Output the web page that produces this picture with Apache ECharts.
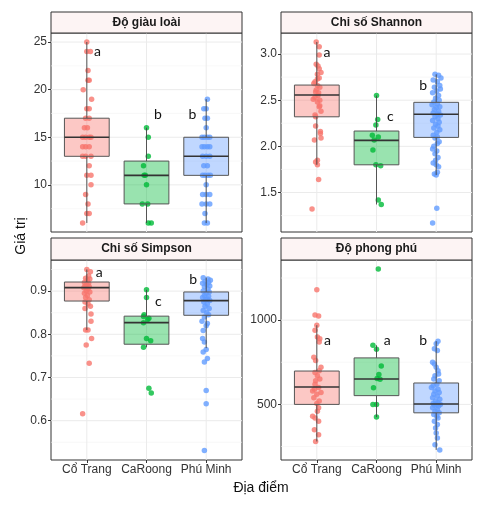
<!DOCTYPE html>
<html>
<head>
<meta charset="utf-8">
<script src="https://cdn.jsdelivr.net/npm/echarts@6/dist/echarts.min.js"></script>
<style>
  html, body { margin: 0; padding: 0; background: #fff; }
  #main { width: 484px; height: 514px; }
</style>
</head>
<body>
<div id="main"></div>
<script>
// địa điểm + tên các chỉ số
var sites = ['Cổ Trang', 'CaRoong', 'Phú Minh'];
var panelNames = ['Độ giàu loài', 'Chi số Shannon', 'Chi số Simpson', 'Độ phong phú'];
var siteColors = ['#F8766D', '#00BA38', '#619CFF'];
var boxFills = ['rgba(248,118,109,0.4)', 'rgba(0,186,56,0.4)', 'rgba(97,156,255,0.4)'];

// điểm jitter: [độ lệch x, giá trị]
var richCT = [[0,25],[0,24],[0.06,24],[0.02,22],[0.02,21],[0.04,21],[-0.06,20],[0.08,19],[0,18],[0.04,18],[-0.02,17],[0.04,17],[-0.04,16],[0.01,16],[-0.07,15],[-0.02,15],[0.04,15],[0.07,15],[-0.07,14],[-0.02,14],[0.04,14],[-0.07,13],[-0.02,13],[0.07,13],[0.04,12],[0,11],[0.07,11],[0.07,10],[-0.02,9],[0.02,8],[0,7],[0.04,7],[-0.07,6]];
var richCR = [[0,16],[0.03,15],[0.03,13],[-0.05,12],[-0.04,11],[-0.02,11],[0,10],[-0.07,8],[0.02,8],[0.03,6],[0.08,6]];
var richPM = [[0.02,19],[-0.04,18],[0,18],[-0.02,17],[0.02,17],[0,16],[-0.07,15],[-0.03,15],[0.02,15],[0.06,15],[-0.07,14],[-0.03,14],[0.02,14],[0.06,14],[-0.06,13],[0,13],[0.06,13],[-0.04,12],[0.02,12],[-0.06,11],[-0.02,11],[0.03,11],[0.07,11],[0,10],[-0.06,9],[0,9],[0.06,9],[-0.07,8],[0,8],[0.06,8],[-0.02,7],[-0.03,6],[0.02,6]];

var shanCT = [[-0.01,3.13],[0.04,3.08],[0.04,2.99],[-0.01,2.89],[0.02,2.87],[0.04,2.84],[0.07,2.80],[0.01,2.78],[0.04,2.74],[0.01,2.73],[-0.03,2.70],[-0.05,2.68],[0.01,2.66],[0.05,2.64],[-0.01,2.61],[-0.02,2.59],[0.03,2.58],[0.02,2.55],[-0.03,2.53],[0.05,2.50],[-0.06,2.51],[0.01,2.48],[0.05,2.44],[0.04,2.43],[0.07,2.38],[-0.03,2.34],[-0.02,2.32],[-0.02,2.22],[0.06,2.16],[0.06,2.14],[0.07,2.09],[-0.04,2.07],[0.01,1.85],[-0.02,1.83],[0.01,1.80],[0.03,1.64],[-0.08,1.32]];
var shanCR = [[0,2.55],[0.02,2.29],[-0.01,2.23],[-0.07,2.12],[0.03,2.10],[-0.04,2.07],[-0.06,1.96],[-0.01,1.80],[0.07,1.79],[0.03,1.42],[0.08,1.37]];
var shanPM = [[-0.02,2.78],[0.04,2.77],[0.08,2.74],[-0.05,2.72],[0.02,2.70],[0.06,2.66],[-0.03,2.64],[0.07,2.62],[0.01,2.60],[-0.06,2.58],[0.04,2.55],[-0.01,2.52],[0.05,2.50],[-0.04,2.48],[0.02,2.46],[-0.07,2.45],[0.06,2.43],[0,2.42],[-0.03,2.40],[0.04,2.38],[-0.05,2.36],[0.02,2.35],[0.07,2.34],[-0.02,2.32],[0.03,2.30],[-0.06,2.28],[0.05,2.26],[-0.01,2.24],[0.03,2.22],[-0.04,2.20],[0.06,2.18],[0.01,2.15],[-0.05,2.12],[0.02,2.10],[-0.02,2.09],[0.05,2.05],[0.02,2.03],[-0.04,2.00],[-0.06,1.97],[0.01,1.95],[-0.02,1.92],[0.03,1.88],[-0.01,1.85],[-0.05,1.82],[0,1.80],[0.04,1.78],[0.02,1.72],[-0.03,1.70],[0,1.69],[0.01,1.33],[-0.06,1.17]];

var simCT = [[0,0.950],[0.06,0.945],[0.03,0.935],[-0.02,0.930],[0.05,0.928],[0.01,0.925],[-0.04,0.920],[0.03,0.918],[0,0.915],[-0.03,0.912],[0.04,0.910],[-0.05,0.908],[0.02,0.905],[-0.01,0.900],[0.05,0.898],[-0.04,0.895],[0.01,0.890],[-0.02,0.885],[0.04,0.880],[-0.03,0.875],[0.02,0.870],[0.06,0.865],[-0.03,0.860],[0.07,0.847],[0.07,0.830],[-0.02,0.810],[0.02,0.810],[0.08,0.790],[-0.01,0.775],[0.04,0.733],[-0.07,0.616]];
var simCR = [[0,0.903],[0,0.885],[-0.04,0.845],[-0.05,0.841],[0.04,0.837],[0.02,0.834],[-0.05,0.827],[0,0.790],[0.07,0.785],[-0.05,0.770],[0.04,0.675],[0.08,0.664]];
var simPM = [[-0.05,0.931],[0.03,0.928],[0.07,0.925],[-0.02,0.922],[0.04,0.920],[-0.06,0.918],[0.01,0.915],[0.06,0.912],[-0.03,0.910],[0.03,0.905],[-0.05,0.900],[0.05,0.898],[0,0.895],[-0.03,0.890],[0.04,0.888],[-0.06,0.885],[0.02,0.882],[-0.01,0.880],[0.06,0.878],[-0.04,0.875],[0.02,0.870],[-0.02,0.865],[0.05,0.860],[-0.05,0.855],[0.01,0.850],[0.04,0.845],[-0.03,0.840],[-0.07,0.830],[0.02,0.825],[0,0.820],[-0.05,0.809],[-0.06,0.790],[-0.03,0.782],[0,0.765],[-0.05,0.759],[0.02,0.744],[-0.03,0.736],[0,0.670],[0,0.639],[-0.03,0.531]];

var abCT = [[0,1180],[-0.03,1030],[0.03,1025],[0,970],[-0.03,940],[0.01,900],[0.05,890],[0.04,870],[-0.05,780],[-0.02,760],[0.07,720],[0.04,700],[-0.03,690],[0.01,670],[0.05,650],[-0.02,640],[-0.03,620],[0.03,600],[-0.04,590],[-0.07,580],[0.07,570],[0,560],[-0.05,540],[0.04,520],[0,505],[0.03,480],[0.01,460],[-0.07,430],[-0.03,420],[0.03,400],[-0.04,350],[0.03,320],[-0.02,280]];
var abCR = [[0.03,1303],[-0.06,851],[0,827],[0.08,728],[0.04,677],[0.01,653],[0.06,649],[-0.05,599],[-0.06,500],[0,500],[0,425]];
var abPM = [[0.03,875],[0,860],[-0.03,830],[0.02,820],[-0.06,750],[-0.03,740],[0,720],[0.03,700],[0.04,680],[-0.02,670],[-0.04,650],[0.05,640],[0.01,620],[-0.05,610],[-0.08,600],[0.03,590],[-0.02,580],[0.05,570],[-0.04,560],[0.02,550],[-0.06,540],[0.06,530],[-0.01,520],[0.03,510],[-0.05,505],[0.01,500],[0.07,500],[-0.03,495],[0.04,490],[-0.06,480],[0.02,470],[-0.02,460],[0.05,450],[-0.04,440],[0.01,430],[0.03,420],[-0.03,400],[0.02,380],[-0.01,360],[0,330],[0.02,300],[-0.02,260],[0.06,230]];

// hộp: [min râu, Q1, trung vị, Q3, max râu] cho từng địa điểm
var richBox = [[6,13,15,17,25],[6,8,11,12.5,16],[6,11,13,15,19]];
var shanBox = [[1.80,2.32,2.556,2.664,3.13],[1.37,1.80,2.065,2.166,2.55],[1.69,2.097,2.347,2.477,2.78]];
var simBox = [[0.81,0.877,0.908,0.921,0.95],[0.77,0.777,0.827,0.842,0.903],[0.768,0.844,0.878,0.898,0.931]];
var abBox = [[280,500,603,698,970],[425,552,651,776,851],[230,450,502,627,875]];

// chữ ký hiệu: [x, y, chữ]
var richLetters = [[1.18,24,'a'],[2.19,17.4,'b'],[2.77,17.4,'b']];
var shanLetters = [[1.17,3.02,'a'],[2.23,2.32,'c'],[2.78,2.66,'b']];
var simLetters = [[1.21,0.943,'a'],[2.2,0.876,'c'],[2.78,0.928,'b']];
var abLetters = [[1.18,881,'a'],[2.18,881,'a'],[2.78,881,'b']];

// nhãn trục y
var richTicks = [10, 15, 20, 25], richMinor = [7.5, 12.5, 17.5, 22.5];
var shanTicks = [1.5, 2.0, 2.5, 3.0], shanMinor = [1.25, 1.75, 2.25, 2.75];
var simTicks = [0.6, 0.7, 0.8, 0.9], simMinor = [0.55, 0.65, 0.75, 0.85, 0.95];
var abTicks = [500, 1000], abMinor = [250, 750, 1250];

var panels = [
    { points: [richCT, richCR, richPM], box: richBox, letters: richLetters, ticks: richTicks, minor: richMinor, min: 5.05, max: 25.95, dec: 0 },
    { points: [shanCT, shanCR, shanPM], box: shanBox, letters: shanLetters, ticks: shanTicks, minor: shanMinor, min: 1.072, max: 3.228, dec: 1 },
    { points: [simCT, simCR, simPM], box: simBox, letters: simLetters, ticks: simTicks, minor: simMinor, min: 0.509, max: 0.972, dec: 1 },
    { points: [abCT, abCR, abPM], box: abBox, letters: abLetters, ticks: abTicks, minor: abMinor, min: 170, max: 1357, dec: 0 }
];

var grids = [
    { left: 51, top: 33, width: 191, height: 199 },
    { left: 281, top: 33, width: 191, height: 199 },
    { left: 51, top: 260, width: 191, height: 200 },
    { left: 281, top: 260, width: 191, height: 200 }
];
var stripTop = [12, 12, 238, 238];

var xAxes = [], yAxes = [], series = [], graphics = [];

for (var p = 0; p < panels.length; p++) {
    var pn = panels[p];
    var bottom = p >= 2;
    grids[p].show = true;
    grids[p].borderColor = '#333';
    grids[p].borderWidth = 1;
    grids[p].backgroundColor = '#fff';

    xAxes.push({
        type: 'value', gridIndex: p, min: 0.4, max: 3.6,
        axisLine: { show: false },
        splitLine: { show: false },
        axisTick: { show: bottom, customValues: [1, 2, 3], length: 3, lineStyle: { color: '#333' } },
        axisLabel: {
            show: bottom, customValues: [1, 2, 3], margin: 4,
            color: '#333', fontSize: 12, fontFamily: 'Liberation Sans',
            formatter: function (v) { return sites[Math.round(v) - 1]; }
        }
    });
    (function (dec) {
        yAxes.push({
            type: 'value', gridIndex: p, min: pn.min, max: pn.max,
            axisLine: { show: false },
            splitLine: { show: false },
            axisTick: { show: true, customValues: pn.ticks, length: 3, lineStyle: { color: '#333' } },
            axisLabel: {
                customValues: pn.ticks, margin: 4,
                color: '#333', fontSize: 12, fontFamily: 'Liberation Sans',
                formatter: function (v) { return v.toFixed(dec); }
            }
        });
    })(pn.dec);

    // đường lưới
    var gridData = [];
    for (var i = 0; i < pn.minor.length; i++) gridData.push([pn.minor[i], 0, 0]);
    for (var i = 0; i < pn.ticks.length; i++) gridData.push([pn.ticks[i], 0, 1]);
    for (var i = 1; i <= 3; i++) gridData.push([0, i, 1]);
    series.push({
        type: 'custom', xAxisIndex: p, yAxisIndex: p, z: 1, silent: true,
        data: gridData,
        renderItem: function (params, api) {
            var v = api.value(0), xv = api.value(1), major = api.value(2);
            var a, b;
            if (xv > 0) {
                var cs = params.coordSys;
                a = api.coord([xv, 0]); b = [a[0], cs.y];
                a = [a[0], cs.y + cs.height];
            } else {
                var cs = params.coordSys;
                a = api.coord([0.4, v]); b = [cs.x + cs.width, a[1]];
            }
            return {
                type: 'line',
                shape: { x1: a[0], y1: a[1], x2: b[0], y2: b[1] },
                style: { stroke: major ? '#EBEBEB' : '#F4F4F4', lineWidth: major ? 1 : 0.6 }
            };
        }
    });

    // điểm
    for (var s = 0; s < 3; s++) {
        var pts = pn.points[s].map(function (d) { return [0, 0]; });
        for (var k = 0; k < pn.points[s].length; k++) {
            pts[k] = [s + 1 + pn.points[s][k][0], pn.points[s][k][1]];
        }
        series.push({
            type: 'scatter', xAxisIndex: p, yAxisIndex: p, z: 2,
            symbolSize: 5.5,
            itemStyle: { color: siteColors[s], opacity: 0.8 },
            data: pts
        });
    }

    // hộp
    var boxData = [];
    for (var s = 0; s < 3; s++) {
        boxData.push([s + 1].concat(pn.box[s]));
    }
    series.push({
        type: 'custom', xAxisIndex: p, yAxisIndex: p, z: 3,
        data: boxData,
        encode: { x: 0, y: [1, 2, 3, 4, 5] },
        renderItem: function (params, api) {
            var x = api.value(0);
            var lo = api.value(1), q1 = api.value(2), med = api.value(3), q3 = api.value(4), hi = api.value(5);
            var w = 0.375;
            var tl = api.coord([x - w, q3]), br = api.coord([x + w, q1]);
            var pLo = api.coord([x, lo]), pHi = api.coord([x, hi]);
            var pQ1 = api.coord([x, q1]), pQ3 = api.coord([x, q3]);
            var mL = api.coord([x - w, med]), mR = api.coord([x + w, med]);
            var idx = Math.round(x) - 1;
            return {
                type: 'group',
                children: [
                    { type: 'line', shape: { x1: pQ3[0], y1: pQ3[1], x2: pHi[0], y2: pHi[1] }, style: { stroke: '#444', lineWidth: 0.9 } },
                    { type: 'line', shape: { x1: pQ1[0], y1: pQ1[1], x2: pLo[0], y2: pLo[1] }, style: { stroke: '#444', lineWidth: 0.9 } },
                    { type: 'rect', shape: { x: tl[0], y: tl[1], width: br[0] - tl[0], height: br[1] - tl[1] }, style: { fill: boxFills[idx], stroke: '#555', lineWidth: 1 } },
                    { type: 'line', shape: { x1: mL[0], y1: mL[1], x2: mR[0], y2: mR[1] }, style: { stroke: '#333', lineWidth: 1.6 } }
                ]
            };
        }
    });

    // chữ a, b, c
    series.push({
        type: 'custom', xAxisIndex: p, yAxisIndex: p, z: 4,
        data: pn.letters,
        renderItem: function (params, api) {
            var c = api.coord([api.value(0), api.value(1)]);
            return {
                type: 'text',
                style: {
                    x: c[0], y: c[1], text: api.value(2),
                    fill: '#111', font: '14px Lato, "Liberation Sans"',
                    align: 'center', verticalAlign: 'middle'
                }
            };
        }
    });

    // dải tiêu đề
    graphics.push({
        type: 'rect', z: 10,
        shape: { x: grids[p].left, y: stripTop[p], width: grids[p].width, height: grids[p].top - stripTop[p] },
        style: { fill: '#FDF4F4', stroke: '#333', lineWidth: 1 }
    });
    graphics.push({
        type: 'text', z: 11,
        x: grids[p].left + grids[p].width / 2, y: (stripTop[p] + grids[p].top) / 2,
        style: {
            text: panelNames[p], fill: '#1A1A1A',
            font: 'bold 12px "Liberation Sans"', align: 'center', verticalAlign: 'middle'
        }
    });
}

// tên trục
graphics.push({
    type: 'text', x: 21, y: 236, rotation: Math.PI / 2,
    style: { text: 'Giá trị', fill: '#111', font: '14px "Liberation Sans"', align: 'center', verticalAlign: 'middle' }
});
graphics.push({
    type: 'text', x: 261, y: 488,
    style: { text: 'Địa điểm', fill: '#111', font: '14px "Liberation Sans"', align: 'center', verticalAlign: 'middle' }
});

var myChart = echarts.init(document.getElementById('main'));
myChart.setOption({
    animation: false,
    backgroundColor: '#fff',
    grid: grids,
    xAxis: xAxes,
    yAxis: yAxes,
    graphic: graphics,
    series: series
});
</script>
</body>
</html>
